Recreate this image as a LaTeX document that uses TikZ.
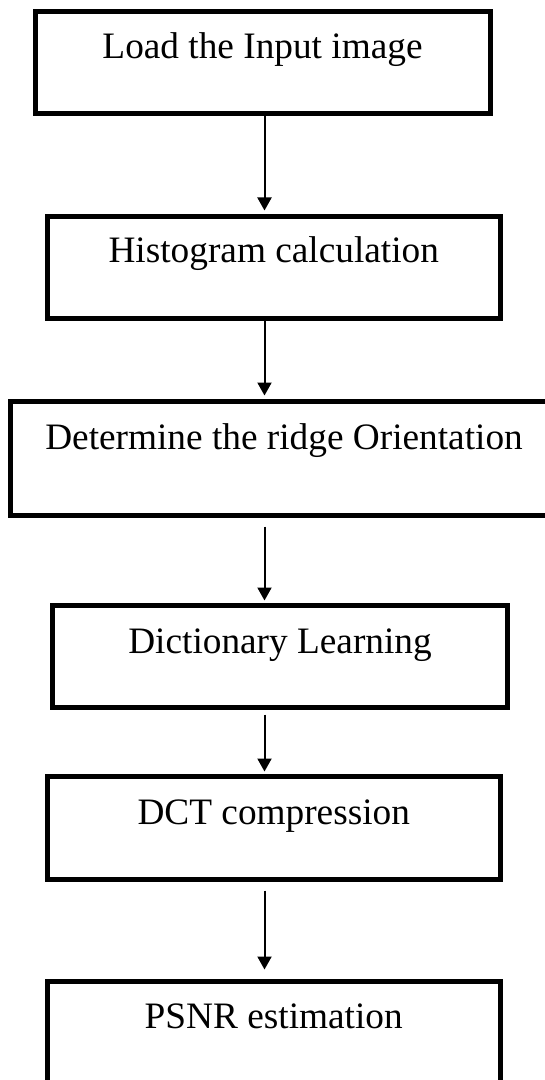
\documentclass[tikz,border=0pt]{standalone}
\usepackage{fontspec}
\setmainfont{Liberation Serif}
\usetikzlibrary{arrows.meta}
\begin{document}
\begin{tikzpicture}[x=0.5pt,y=-0.5pt,
  stepbox/.style={draw=black, line width=2.5pt, inner sep=0pt, anchor=base,
    font=\fontsize{18.65}{22}\selectfont},
  arr/.style={draw=black, line width=1pt, -{Triangle[width=7pt,length=6.5pt]}}]
\fill[white] (0,0) rectangle (545,1080);
\useasboundingbox (0,0) rectangle (545,1080);
\clip (0,0) rectangle (545,1080);
\coordinate (ax) at (264.5,0);
\node[stepbox, minimum width=227.5pt, text height=23.75pt, text depth=27.25pt] (b1) at (262.5,59) {Load the Input image};
\node[stepbox, minimum width=226.75pt, text height=23.25pt, text depth=27.75pt] (b2) at (273.75,263) {Histogram calculation};
\node[stepbox, minimum width=273.5pt, text height=23.75pt, text depth=33.25pt] (b3) at (284,449) {Determine the ridge Orientation};
\node[stepbox, minimum width=227.5pt, text height=23.75pt, text depth=27.25pt] (b4) at (280,653) {Dictionary Learning};
\node[stepbox, minimum width=226.75pt, text height=23.75pt, text depth=27.75pt] (b5) at (273.75,824) {DCT compression};
\node[stepbox, minimum width=226.75pt, text height=23.25pt, text depth=33.5pt] (b6) at (273.75,1028) {PSNR estimation};
\draw[arr, shorten >=1.75pt] (b1.south -| ax) -- (b2.north -| ax);
\draw[arr, shorten >=1.75pt] (b2.south -| ax) -- (b3.north -| ax);
\draw[arr, shorten <=4.25pt, shorten >=1.25pt] (b3.south -| ax) -- (b4.north -| ax);
\draw[arr, shorten <=2.25pt, shorten >=1.25pt] (b4.south -| ax) -- (b5.north -| ax);
\draw[arr, shorten <=4.25pt, shorten >=4.75pt] (b5.south -| ax) -- (b6.north -| ax);
\end{tikzpicture}
\end{document}
